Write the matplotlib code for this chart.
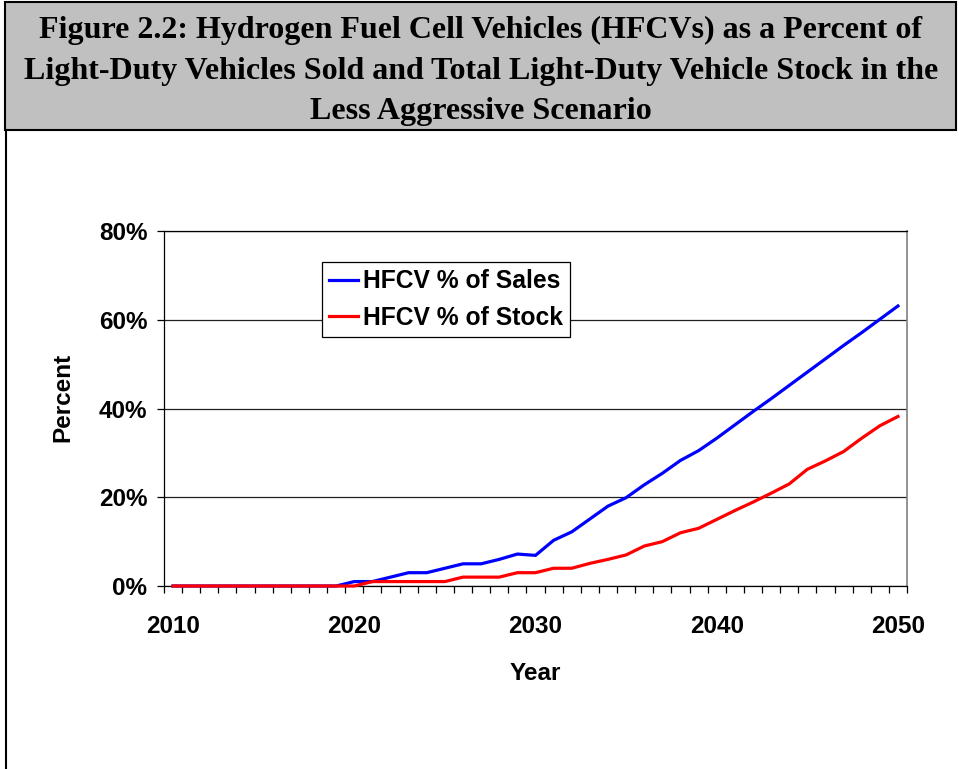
import matplotlib
matplotlib.use("Agg")
import matplotlib.pyplot as plt
from matplotlib.patches import Rectangle
from matplotlib.lines import Line2D
from matplotlib.ticker import FixedLocator, FuncFormatter

# values (percent)
years = list(range(2010, 2051))
sales_pct = [0, 0, 0, 0, 0, 0, 0, 0, 0, 0,
             1.0, 1.0, 2.0, 3.0, 3.0, 4.0, 5.0, 5.0, 6.0, 7.2,
             6.9, 10.3, 12.2, 15.1, 18.0, 19.9, 22.8, 25.4, 28.3, 30.5,
             33.3, 36.3, 39.3, 42.2, 45.2, 48.2, 51.2, 54.2, 57.1, 60.1,
             63.1]
stock_pct = [0, 0, 0, 0, 0, 0, 0, 0, 0, 0,
             0, 1.0, 1.0, 1.0, 1.0, 1.0, 2.0, 2.0, 2.0, 3.0,
             3.0, 4.0, 4.0, 5.1, 6.0, 7.0, 9.0, 10.0, 12.0, 13.0,
             15.0, 17.0, 18.9, 20.9, 23.0, 26.3, 28.2, 30.3, 33.3, 36.1,
             38.2]
series_names = ["HFCV % of Sales", "HFCV % of Stock"]
y_ticks = [0, 20, 40, 60, 80]
x_labels = [2010, 2020, 2030, 2040, 2050]
title_lines = ["Figure 2.2: Hydrogen Fuel Cell Vehicles (HFCVs) as a Percent of",
               "Light-Duty Vehicles Sold and Total Light-Duty Vehicle Stock in the",
               "Less Aggressive Scenario"]

W, H = 959, 769
fig = plt.figure(figsize=(W / 100, H / 100), dpi=100)

# page decoration (title box + frame) in pixel coords
bg = fig.add_axes([0, 0, 1, 1], zorder=0)
bg.set_xlim(0, W)
bg.set_ylim(H, 0)
bg.axis("off")
bg.add_patch(Rectangle((5, 2), 951, 128, facecolor="#c0c0c0",
                       edgecolor="black", lw=1.5))
bg.plot([6, 6], [130, H], color="black", lw=1.5)

title_y = [30, 71, 112]
for line, ty in zip(title_lines, title_y):
    bg.text(481, ty, line, ha="center", va="center",
            family="Liberation Serif", weight="bold", fontsize=23)

# chart
ax = fig.add_axes([164 / W, 1 - 586 / H, 743 / W, 355 / H], zorder=1)
ax.set_facecolor("none")
ax.plot(years, sales_pct, color="#0000ff", lw=2.3, clip_on=False, zorder=4)
ax.plot(years, stock_pct, color="#ff0000", lw=2.3, clip_on=False, zorder=4)

ax.set_xlim(2009.5, 2050.5)
ax.set_ylim(0, 80)

font = dict(family="Liberation Sans", weight="bold")
ax.yaxis.set_major_locator(FixedLocator(y_ticks))
ax.yaxis.set_major_formatter(FuncFormatter(lambda v, p: "%d%%" % v))
ax.xaxis.set_major_locator(FixedLocator(x_labels))
ax.xaxis.set_minor_locator(FixedLocator([y - 0.5 for y in years] + [2050.5]))
ax.tick_params(axis="x", which="major", length=0, pad=21, labelsize=17.5)
ax.tick_params(axis="x", which="minor", length=5, width=0.9, direction="out")
ax.tick_params(axis="y", which="major", length=5, width=0.9, direction="out",
               pad=7, labelsize=17.5)
for lab in ax.get_xticklabels() + ax.get_yticklabels():
    lab.set_family("Liberation Sans")
    lab.set_weight("bold")

ax.yaxis.grid(True, color="#202020", lw=0.9)
ax.set_axisbelow(True)
for side in ["left", "bottom", "top"]:
    ax.spines[side].set_color("black")
    ax.spines[side].set_linewidth(0.9)
ax.spines["right"].set_color("#808080")
ax.spines["right"].set_linewidth(1.2)

ax.set_ylabel("Percent", fontsize=17.5, **font)
ax.yaxis.set_label_coords(-0.12, 0.53)
ax.set_xlabel("Year", fontsize=17.5, **font)
ax.xaxis.set_label_coords(0.5, -0.213)

handles = [Line2D([], [], color="#0000ff", lw=2.3),
           Line2D([], [], color="#ff0000", lw=2.3)]
leg = ax.legend(handles, series_names, loc="upper left",
                bbox_to_anchor=(322 / W, 1 - 262 / H),
                bbox_transform=fig.transFigure, borderaxespad=0,
                frameon=True, fancybox=False, framealpha=1,
                edgecolor="black", prop=dict(size=17.7, **font),
                handlelength=1.15, handletextpad=0.2, borderpad=0.3,
                labelspacing=0.5)
leg.get_frame().set_linewidth(0.9)
leg.set_zorder(5)

fig.savefig("out.png", dpi=100)
